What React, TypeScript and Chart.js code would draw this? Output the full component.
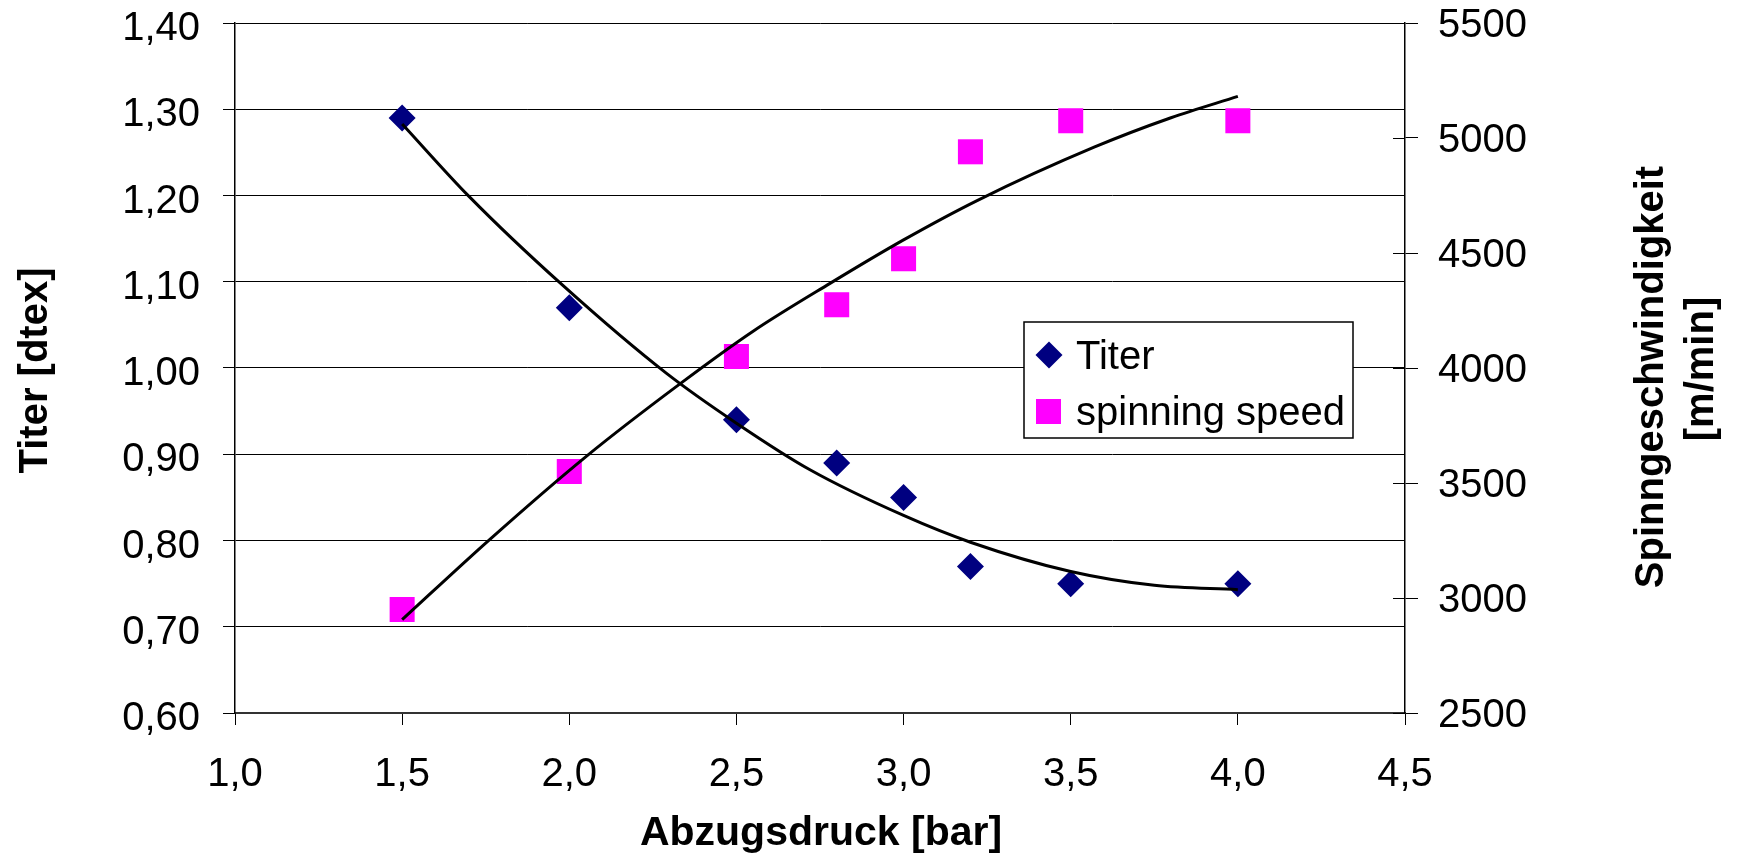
import React, { useEffect, useRef } from 'react';
import { Chart, registerables } from 'chart.js';

Chart.register(...registerables);

// ---- data ----
const PRESSURE = [1.5, 2.0, 2.5, 2.8, 3.0, 3.2, 3.5, 4.0];
const TITER = [1.29, 1.07, 0.94, 0.89, 0.85, 0.77, 0.75, 0.75];
const SPEED = [2950, 3550, 4050, 4275, 4475, 4940, 5075, 5075];

// trend lines
const TITER_TREND_X = [1.5, 1.7, 1.98, 2.29, 2.5, 2.72, 3.0, 3.2, 3.5, 3.75, 4.0];
const TITER_TREND_Y = [1.283, 1.199, 1.096, 0.994, 0.936, 0.882, 0.829, 0.798, 0.764, 0.748, 0.743];
const SPEED_TREND_X = [1.5, 1.76, 2.05, 2.33, 2.55, 2.78, 3.0, 3.22, 3.57, 3.8, 4.0];
const SPEED_TREND_Y = [2906, 3252, 3615, 3930, 4160, 4368, 4557, 4728, 4960, 5088, 5181];

const SERIES_NAMES = ['Titer', 'spinning speed'];
const X_TITLE = 'Abzugsdruck [bar]';
const Y_TITLE = 'Titer [dtex]';
const Y1_TITLE = ['Spinngeschwindigkeit', '[m/min]'];

const X_TICKS = [1.0, 1.5, 2.0, 2.5, 3.0, 3.5, 4.0, 4.5];
const Y_TICKS = [0.6, 0.7, 0.8, 0.9, 1.0, 1.1, 1.2, 1.3, 1.4];
const Y1_TICKS = [2500, 3000, 3500, 4000, 4500, 5000, 5500];

const FONT = "'Liberation Sans', Arial, sans-serif";
const NAVY = '#000080';
const MAGENTA = '#FF00FF';

const W = 1738;
const H = 859;

const decorPlugin = {
  id: 'decor',
  afterDraw(chart: any) {
    const ctx = chart.ctx as CanvasRenderingContext2D;
    const area = chart.chartArea;
    const y1 = chart.scales.y1;
    ctx.save();

    // inner half of the crossing ticks on the secondary axis
    ctx.strokeStyle = '#000';
    ctx.lineWidth = 1;
    y1.ticks.forEach((_t: any, i: number) => {
      const py = Math.round(y1.getPixelForTick(i)) + 0.5;
      ctx.beginPath();
      ctx.moveTo(area.right - 12, py);
      ctx.lineTo(area.right, py);
      ctx.stroke();
    });

    // axis titles
    ctx.fillStyle = '#000';
    ctx.font = `bold 41px ${FONT}`;
    ctx.textAlign = 'center';
    ctx.textBaseline = 'alphabetic';
    ctx.fillText(X_TITLE, 821, 845);

    ctx.font = `bold 40px ${FONT}`;
    ctx.save();
    ctx.translate(47, 370.5);
    ctx.rotate(-Math.PI / 2);
    ctx.fillText(Y_TITLE, 0, 0);
    ctx.restore();

    ctx.save();
    ctx.translate(1663, 377);
    ctx.rotate(-Math.PI / 2);
    ctx.fillText(Y1_TITLE[0], 0, 0);
    ctx.restore();

    ctx.save();
    ctx.translate(1713, 369);
    ctx.rotate(-Math.PI / 2);
    ctx.fillText(Y1_TITLE[1], 0, 0);
    ctx.restore();

    // legend box
    const lx = 1024, ly = 322, lw = 329, lh = 116;
    ctx.fillStyle = '#fff';
    ctx.fillRect(lx, ly, lw, lh);
    ctx.strokeStyle = '#000';
    ctx.lineWidth = 1.5;
    ctx.strokeRect(lx, ly, lw, lh);

    // diamond
    ctx.fillStyle = NAVY;
    ctx.beginPath();
    const dx = 1049, dy = 355, dr = 13.5;
    ctx.moveTo(dx, dy - dr);
    ctx.lineTo(dx + dr, dy);
    ctx.lineTo(dx, dy + dr);
    ctx.lineTo(dx - dr, dy);
    ctx.closePath();
    ctx.fill();
    // square
    ctx.fillStyle = MAGENTA;
    ctx.fillRect(1036, 399, 25, 25);

    ctx.fillStyle = '#000';
    ctx.font = `40px ${FONT}`;
    ctx.textAlign = 'left';
    ctx.fillText(SERIES_NAMES[0], 1076, 369);
    ctx.fillText(SERIES_NAMES[1], 1076, 425);

    ctx.restore();
  },
};

function toPts(xs: number[], ys: number[]) {
  return xs.map((x, i) => ({ x, y: ys[i] }));
}

export default function App() {
  const ref = useRef<HTMLCanvasElement | null>(null);

  useEffect(() => {
    if (!ref.current) return;
    const tickFont = { family: FONT, size: 40 };
    const chart = new Chart(ref.current, {
      type: 'scatter',
      data: {
        datasets: [
          {
            label: 'Titer trend',
            data: toPts(TITER_TREND_X, TITER_TREND_Y),
            yAxisID: 'y',
            showLine: true,
            borderColor: '#000',
            borderWidth: 3,
            pointRadius: 0,
            cubicInterpolationMode: 'monotone',
            order: 0,
          },
          {
            label: 'Speed trend',
            data: toPts(SPEED_TREND_X, SPEED_TREND_Y),
            yAxisID: 'y1',
            showLine: true,
            borderColor: '#000',
            borderWidth: 3,
            pointRadius: 0,
            cubicInterpolationMode: 'monotone',
            order: 0,
          },
          {
            label: SERIES_NAMES[0],
            data: toPts(PRESSURE, TITER),
            yAxisID: 'y',
            pointStyle: 'rectRot',
            pointRadius: 13.5,
            backgroundColor: NAVY,
            borderColor: NAVY,
            borderWidth: 0,
            order: 1,
          },
          {
            label: SERIES_NAMES[1],
            data: toPts(PRESSURE, SPEED),
            yAxisID: 'y1',
            pointStyle: 'rect',
            pointRadius: 17.7,
            backgroundColor: MAGENTA,
            borderColor: MAGENTA,
            borderWidth: 0,
            order: 1,
          },
        ] as any,
      },
      options: {
        responsive: false,
        animation: false,
        layout: { padding: { top: 23, left: 0, right: 0, bottom: 0 } },
        plugins: {
          legend: { display: false },
          tooltip: { enabled: false },
        },
        scales: {
          x: {
            type: 'linear',
            min: 1,
            max: 4.5,
            afterBuildTicks: (s: any) => {
              s.ticks = X_TICKS.map((v) => ({ value: v }));
            },
            afterFit: (s: any) => {
              s.height = 146;
              s.paddingLeft = 0;
              s.paddingRight = 0;
            },
            ticks: {
              font: tickFont,
              color: '#000',
              padding: 26,
              maxRotation: 0,
              autoSkip: false,
              callback: (v: any) => Number(v).toFixed(1).replace('.', ','),
            },
            grid: { drawOnChartArea: false, drawTicks: true, tickLength: 12, color: '#000', lineWidth: 1 },
            border: { display: true, color: '#333', width: 2 },
          },
          y: {
            type: 'linear',
            position: 'left',
            min: 0.6,
            max: 1.4,
            afterBuildTicks: (s: any) => {
              s.ticks = Y_TICKS.map((v) => ({ value: v }));
            },
            afterFit: (s: any) => {
              s.width = 235;
              s.paddingTop = 0;
              s.paddingBottom = 0;
            },
            ticks: {
              font: tickFont,
              color: '#000',
              padding: 23,
              labelOffset: 6,
              autoSkip: false,
              callback: (v: any) => Number(v).toFixed(2).replace('.', ','),
            },
            grid: { drawOnChartArea: true, drawTicks: true, tickLength: 12, color: '#000', lineWidth: 1 },
            border: { display: true, color: '#000', width: 1.5 },
          },
          y1: {
            type: 'linear',
            position: 'right',
            min: 2500,
            max: 5500,
            afterBuildTicks: (s: any) => {
              s.ticks = Y1_TICKS.map((v) => ({ value: v }));
            },
            afterFit: (s: any) => {
              s.width = W - 1405;
              s.paddingTop = 0;
              s.paddingBottom = 0;
            },
            ticks: {
              font: tickFont,
              color: '#000',
              padding: 20,
              labelOffset: 3,
              autoSkip: false,
              callback: (v: any) => String(v),
            },
            grid: { drawOnChartArea: false, drawTicks: true, tickLength: 13, color: '#000', lineWidth: 1 },
            border: { display: true, color: '#000', width: 1.5 },
          },
        },
      } as any,
      plugins: [decorPlugin],
    });
    return () => chart.destroy();
  }, []);

  return (
    <div style={{ position: 'absolute', left: 0, top: 0, width: W, height: H, background: '#fff' }}>
      <canvas ref={ref} width={W} height={H} style={{ width: W, height: H, display: 'block' }} />
    </div>
  );
}
